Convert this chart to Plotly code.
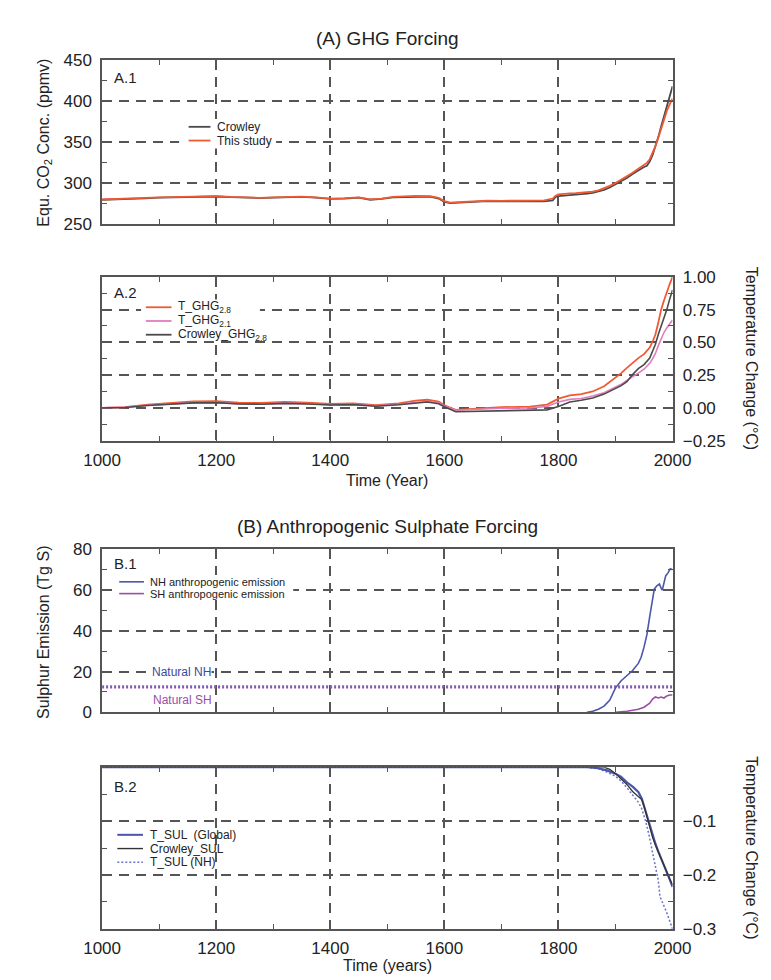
import plotly.graph_objects as go

# ---------------- DATA ----------------
years_a1 = [1000, 1025, 1050, 1075, 1100, 1125, 1150, 1175, 1200, 1225, 1250, 1275, 1300, 1325,
            1350, 1375, 1400, 1425, 1450, 1470, 1490, 1510, 1530, 1550, 1575, 1590, 1600, 1610,
            1625, 1650, 1675, 1700, 1725, 1750, 1775, 1790, 1795, 1800, 1810, 1820, 1830, 1840,
            1850, 1860, 1870, 1880, 1890, 1900, 1910, 1920, 1930, 1940, 1950, 1955, 1960, 1965,
            1970, 1975, 1980, 1985, 1990, 1995, 2000]
co2_crowley = [279.5, 279.8, 280.5, 281.3, 282.0, 282.5, 283.0, 283.4, 283.5, 282.6, 282.0, 281.6, 282.0, 282.8,
               283.0, 282.0, 280.5, 281.0, 282.0, 279.5, 280.5, 282.5, 283.0, 283.5, 283.3, 281.0, 277.0, 275.3,
               276.0, 277.3, 277.8, 277.5, 277.8, 277.8, 277.6, 278.8, 283.0, 284.0, 284.5, 285.0, 285.5, 286.3,
               287.0, 288.0, 289.5, 291.5, 294.5, 298.0, 302.0, 306.0, 311.0, 315.5, 319.5, 321.0, 326.0, 334.0,
               344.0, 356.0, 369.0, 382.0, 395.0, 406.0, 418.0]
co2_this_study = [279.8, 280.2, 281.0, 281.8, 282.4, 283.0, 283.5, 283.9, 284.0, 283.0, 282.3, 281.9, 282.3, 283.2,
                  283.4, 282.3, 280.9, 281.4, 282.4, 280.0, 281.0, 283.0, 283.6, 284.2, 284.0, 281.8, 277.8, 276.0,
                  276.6, 277.8, 278.3, 278.2, 278.5, 278.6, 278.8, 281.0, 284.5, 286.0, 287.0, 287.3, 287.6, 288.0,
                  288.5, 289.5, 291.0, 293.5, 296.5, 300.0, 304.0, 308.0, 312.5, 317.5, 322.0, 324.5, 329.0, 336.0,
                  345.0, 355.0, 366.0, 377.0, 388.0, 396.0, 403.0]

years_a2 = [1000, 1040, 1080, 1120, 1160, 1200, 1240, 1280, 1320, 1360, 1400, 1440, 1480, 1520, 1550,
            1570, 1590, 1600, 1620, 1650, 1700, 1750, 1780, 1800, 1820, 1840, 1860, 1880, 1900, 1910,
            1920, 1930, 1940, 1950, 1960, 1965, 1970, 1975, 1980, 1985, 1990, 1995, 2000]
t_ghg_28 = [0.000, 0.005, 0.025, 0.040, 0.050, 0.052, 0.040, 0.038, 0.045, 0.040, 0.030, 0.035, 0.020, 0.035, 0.055,
            0.062, 0.048, 0.020, -0.015, -0.008, 0.005, 0.010, 0.025, 0.070, 0.095, 0.105, 0.125, 0.165, 0.230, 0.265,
            0.305, 0.345, 0.380, 0.410, 0.460, 0.505, 0.560, 0.650, 0.750, 0.820, 0.890, 0.945, 1.000]
t_ghg_21 = [0.000, 0.004, 0.020, 0.032, 0.040, 0.042, 0.032, 0.030, 0.036, 0.032, 0.024, 0.028, 0.016, 0.028, 0.044,
            0.050, 0.038, 0.014, -0.018, -0.012, -0.003, 0.000, 0.010, 0.045, 0.065, 0.072, 0.090, 0.115, 0.155, 0.180,
            0.210, 0.235, 0.265, 0.295, 0.340, 0.375, 0.415, 0.475, 0.530, 0.575, 0.610, 0.645, 0.670]
crowley_ghg_28 = [0.000, 0.003, 0.018, 0.030, 0.038, 0.040, 0.030, 0.028, 0.034, 0.030, 0.022, 0.025, 0.012, 0.024, 0.040,
                  0.045, 0.032, 0.008, -0.030, -0.028, -0.024, -0.020, -0.015, 0.010, 0.045, 0.058, 0.075, 0.105, 0.148, 0.170,
                  0.200, 0.255, 0.300, 0.330, 0.380, 0.430, 0.485, 0.560, 0.620, 0.690, 0.750, 0.830, 0.900]

years_nh_emis = [1850, 1860, 1870, 1880, 1890, 1900, 1910, 1920, 1930, 1940, 1945, 1950, 1955, 1960,
                 1963, 1968, 1972, 1977, 1980, 1982, 1985, 1988, 1992, 1996, 2000]
nh_emission = [0, 0.5, 1.5, 3, 6, 12, 15.5, 18, 20.5, 24, 27, 32, 38, 47,
               52, 60.5, 62, 63, 61, 60, 63.5, 67, 68.5, 70.5, 70]
years_sh_emis = [1900, 1910, 1920, 1930, 1940, 1950, 1955, 1960, 1965, 1970, 1975, 1980, 1985, 1990, 1995, 2000]
sh_emission = [0, 0.2, 0.5, 1, 1.5, 2.5, 3.5, 4.5, 6.5, 7.5, 7, 7.5, 7, 8, 8.5, 8.5]
years_natural = [1000, 2000]
natural_nh = [12.8, 12.8]
natural_sh = [12.2, 12.2]

years_sul_global = [1000, 1850, 1870, 1885, 1900, 1910, 1920, 1930, 1940, 1946, 1950, 1955, 1960, 1965,
                    1970, 1975, 1980, 1985, 1990, 1995, 2000]
t_sul_global = [0, 0, -0.002, -0.006, -0.012, -0.018, -0.028, -0.036, -0.046, -0.058, -0.072, -0.09, -0.11, -0.128,
                -0.142, -0.156, -0.168, -0.182, -0.195, -0.208, -0.222]
years_sul_crowley = [1000, 1880, 1890, 1900, 1910, 1920, 1930, 1940, 1946, 1950, 1955, 1960, 1965, 1970,
                     1975, 1980, 1985, 1990, 1995, 2000]
crowley_sul = [0, 0, -0.004, -0.012, -0.022, -0.032, -0.045, -0.054, -0.06, -0.072, -0.092, -0.113, -0.13, -0.145,
               -0.158, -0.17, -0.184, -0.196, -0.207, -0.218]
years_sul_nh = [1000, 1850, 1870, 1885, 1900, 1910, 1920, 1930, 1940, 1946, 1952, 1958, 1963, 1968,
                1972, 1975, 1978, 1982, 1986, 1990, 1995, 2000]
t_sul_nh = [0, 0, -0.003, -0.009, -0.017, -0.026, -0.038, -0.051, -0.065, -0.077, -0.097, -0.122, -0.148, -0.17,
            -0.19, -0.21, -0.24, -0.25, -0.258, -0.27, -0.285, -0.3]

x_ticks = [1000, 1200, 1400, 1600, 1800, 2000]

# ---------------- STYLE ----------------
W, H = 771, 980
FONT = "Liberation Sans, Arial, sans-serif"
AX = "#555555"
ORANGE = "#f05a32"
GRAY = "#4a4a4a"
PINK = "#e27cbc"
BLUE = "#4b56a8"
PURPLE = "#9a4ea6"
DOTBLUE = "#6b74c6"


def px(x):
    return x / W


def py(y):
    return 1 - y / H


fig = go.Figure()

# A.1
fig.add_trace(go.Scatter(x=years_a1, y=co2_crowley, mode="lines", line=dict(color=GRAY, width=1.8),
                         xaxis="x", yaxis="y", name="Crowley"))
fig.add_trace(go.Scatter(x=years_a1, y=co2_this_study, mode="lines", line=dict(color=ORANGE, width=1.8),
                         xaxis="x", yaxis="y", name="This study"))
# A.2
fig.add_trace(go.Scatter(x=years_a2, y=t_ghg_28, mode="lines", line=dict(color=ORANGE, width=1.8),
                         xaxis="x2", yaxis="y2", name="T_GHG2.8"))
fig.add_trace(go.Scatter(x=years_a2, y=t_ghg_21, mode="lines", line=dict(color=PINK, width=1.6),
                         xaxis="x2", yaxis="y2", name="T_GHG2.1"))
fig.add_trace(go.Scatter(x=years_a2, y=crowley_ghg_28, mode="lines", line=dict(color=GRAY, width=1.6),
                         xaxis="x2", yaxis="y2", name="Crowley_GHG2.8"))
# B.1
fig.add_trace(go.Scatter(x=years_natural, y=natural_nh, mode="lines", line=dict(color=DOTBLUE, width=2, dash="2px,2px"),
                         xaxis="x3", yaxis="y3", name="Natural NH"))
fig.add_trace(go.Scatter(x=years_natural, y=natural_sh, mode="lines", line=dict(color=PURPLE, width=2, dash="2px,2px"),
                         xaxis="x3", yaxis="y3", name="Natural SH"))
fig.add_trace(go.Scatter(x=years_nh_emis, y=nh_emission, mode="lines", line=dict(color=BLUE, width=1.6),
                         xaxis="x3", yaxis="y3", name="NH anthropogenic emission"))
fig.add_trace(go.Scatter(x=years_sh_emis, y=sh_emission, mode="lines", line=dict(color=PURPLE, width=1.6),
                         xaxis="x3", yaxis="y3", name="SH anthropogenic emission"))
# B.2
fig.add_trace(go.Scatter(x=years_sul_nh, y=t_sul_nh, mode="lines", line=dict(color=DOTBLUE, width=1.5, dash="2px,2px"),
                         xaxis="x4", yaxis="y4", name="T_SUL (NH)"))
fig.add_trace(go.Scatter(x=years_sul_global, y=t_sul_global, mode="lines", line=dict(color=BLUE, width=2.2),
                         xaxis="x4", yaxis="y4", name="T_SUL (Global)"))
fig.add_trace(go.Scatter(x=years_sul_crowley, y=crowley_sul, mode="lines", line=dict(color="#333333", width=1.3),
                         xaxis="x4", yaxis="y4", name="Crowley_SUL"))

# ---------------- AXES ----------------
xdom = [px(79), px(679)]
ydoms = {
    1: [py(211), py(44)],
    2: [py(432), py(265)],
    3: [py(709), py(543)],
    4: [py(930), py(765)],
}
grid_common = dict(showgrid=True, gridcolor=AX, gridwidth=1.6, griddash="10px,7px",
                   showline=True, linecolor=AX, linewidth=1.6, mirror="allticks",
                   ticks="inside", ticklen=5, tickcolor=AX, tickwidth=1.3, zeroline=False,
                   tickfont=dict(family=FONT, size=17, color="#222"))

layout_axes = {}
for i in range(1, 5):
    xk = "xaxis" if i == 1 else f"xaxis{i}"
    yk = "yaxis" if i == 1 else f"yaxis{i}"
    layout_axes[xk] = dict(domain=xdom, range=[1000, 2000], anchor="y" if i == 1 else f"y{i}",
                           tickmode="array", tickvals=x_ticks, showticklabels=(i in (2, 4)),
                           ticklabelstandoff=3,
                           minor=dict(dtick=100, tick0=1000, ticks="inside", ticklen=5, tickcolor=AX, showgrid=False),
                           **grid_common)
    layout_axes[yk] = dict(domain=ydoms[i], anchor="x" if i == 1 else f"x{i}", ticklabelstandoff=5,
                           **grid_common)

layout_axes["yaxis"].update(range=[250, 450], tickmode="array", tickvals=[250, 300, 350, 400, 450],
                            minor=dict(tickmode="array", tickvals=[275, 325, 375, 425], ticks="inside",
                                       ticklen=5, tickcolor=AX, showgrid=False))
layout_axes["yaxis2"].update(range=[-0.25, 1.0], side="right", tickmode="array",
                             tickvals=[-0.25, 0, 0.25, 0.5, 0.75, 1.0], tickformat=".2f",
                             minor=dict(tickmode="array", tickvals=[-0.125, 0.125, 0.375, 0.625, 0.875],
                                        ticks="inside", ticklen=5, tickcolor=AX, showgrid=False))
layout_axes["yaxis3"].update(range=[0, 80], tickmode="array", tickvals=[0, 20, 40, 60, 80],
                             minor=dict(tickmode="array", tickvals=[10, 30, 50, 70], ticks="inside",
                                        ticklen=5, tickcolor=AX, showgrid=False))
layout_axes["yaxis4"].update(range=[-0.3, 0], side="right", tickmode="array",
                             tickvals=[-0.3, -0.2, -0.1], ticktext=["−0.3", "−0.2", "−0.1"],
                             minor=dict(tickmode="array", tickvals=[-0.25, -0.15, -0.05], ticks="inside",
                                        ticklen=5, tickcolor=AX, showgrid=False))

# ---------------- ANNOTATIONS / LEGENDS ----------------
ann = []
shapes = []


def text(x, y, s, size=15, anchor="left", color="#222", angle=0, bg=None):
    d = dict(x=px(x), y=py(y), xref="paper", yref="paper", text=s, showarrow=False,
             xanchor=anchor, yanchor="middle", textangle=angle,
             font=dict(family=FONT, size=size, color=color))
    if bg:
        d.update(bgcolor=bg, borderpad=0)
    ann.append(d)


def box(x0, y0, x1, y1):
    shapes.append(dict(type="rect", xref="paper", yref="paper", x0=px(x0), x1=px(x1), y0=py(y1), y1=py(y0),
                       fillcolor="white", line=dict(width=0), layer="above"))


def sample(x0, x1, y, color, width=1.8, dash="solid"):
    shapes.append(dict(type="line", xref="paper", yref="paper", x0=px(x0), x1=px(x1), y0=py(y), y1=py(y),
                       line=dict(color=color, width=width, dash=dash), layer="above"))


text(379, 22, "(A) GHG Forcing", size=19, anchor="center")
text(379, 520, "(B) Anthropogenic Sulphate Forcing", size=19, anchor="center")
text(89, 62, "A.1", size=15)
text(89, 281, "A.2", size=15)
text(89, 557, "B.1", size=15)
text(89, 785, "B.2", size=15)
text(379, 473, "Time (Year)", size=16, anchor="center")
text(379, 967, "Time (years)", size=16, anchor="center")
text(18, 128, "Equ. CO<sub>2</sub> Conc. (ppmv)", size=16, anchor="center", angle=-90)
text(18, 628, "Sulphur Emission (Tg S)", size=16, anchor="center", angle=-90)
text(762, 348, "Temperature Change (°C)", size=16, anchor="center", angle=90)
text(762, 847, "Temperature Change (°C)", size=16, anchor="center", angle=90)

# A.1 legend
box(160, 104, 262, 134)
sample(170, 193, 112, GRAY)
sample(170, 193, 126, ORANGE)
text(198, 112, "Crowley", size=12)
text(198, 126, "This study", size=12)

# A.2 legend
box(120, 288, 245, 329)
sample(125, 152, 296, ORANGE)
sample(125, 152, 310, PINK)
sample(125, 152, 324, GRAY)
text(157, 296, "T_GHG<sub>2.8</sub>", size=12)
text(157, 310, "T_GHG<sub>2.1</sub>", size=12)
text(157, 324, "Crowley_GHG<sub>2.8</sub>", size=12)

# B.1 legend
box(92, 569, 280, 593)
sample(97, 123, 576, BLUE, 1.6)
sample(97, 123, 588, PURPLE, 1.6)
text(127, 576, "NH anthropogenic emission", size=11)
text(127, 588, "SH anthropogenic emission", size=11)
text(130, 668, "Natural NH", size=12, color="#3b4a9c", bg="white")
text(130, 697, "Natural SH", size=12, color=PURPLE)

# B.2 legend
sample(95, 122, 834, BLUE, 2)
sample(95, 122, 848, "#333333", 1.4)
sample(95, 122, 862, DOTBLUE, 1.5, "2px,2px")
text(127, 834, "T_SUL  (Global)", size=12)
text(127, 848, "Crowley_SUL", size=12)
text(127, 862, "T_SUL (NH)", size=12)

fig.update_layout(
    width=W, height=H, margin=dict(l=0, r=0, t=0, b=0),
    paper_bgcolor="white", plot_bgcolor="white", showlegend=False,
    font=dict(family=FONT, color="#222"),
    annotations=ann, shapes=shapes,
    **layout_axes,
)

fig.write_html("out.html")
